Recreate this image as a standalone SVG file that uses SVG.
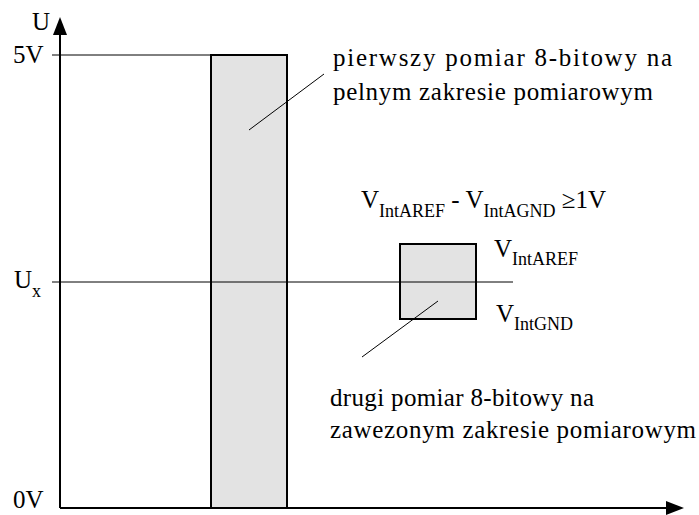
<svg xmlns="http://www.w3.org/2000/svg" width="699" height="515" viewBox="0 0 699 515">
<style>
text{fill:#000;font-size:25px}
.sub{font-size:18px}
.ax{stroke:#000;stroke-width:2;fill:none}
.thin{stroke:#000;stroke-width:1;fill:none}
.bar{fill:#e3e3e3;stroke:#000;stroke-width:2}
</style>
<rect width="699" height="515" fill="#fff"/>
<g id="bars">
<rect id="bar-full" class="bar" x="211" y="55" width="76" height="453"/>
<rect id="bar-narrow" class="bar" x="400" y="244" width="76" height="75"/>
</g>
<g id="connectors">
<line class="thin" x1="52" y1="55" x2="211" y2="55"/>
<line class="thin" x1="52" y1="282" x2="513" y2="282"/>
<line class="thin" x1="249" y1="130" x2="324" y2="74"/>
<line class="thin" x1="438" y1="301" x2="362" y2="357"/>
</g>
<g id="axes">
<line class="ax" x1="60" y1="508" x2="60" y2="34"/>
<polygon points="60,17 53,35 67,35" fill="#000"/>
<line class="ax" x1="60" y1="508" x2="667" y2="508"/>
<polygon points="684,508 666,501 666,515" fill="#000"/>
</g>
<g id="labels" font-family="Liberation Serif, Times New Roman, DejaVu Serif, serif">
<text x="32" y="30">U</text>
<text x="13" y="63">5V</text>
<text x="14" y="288">U<tspan class="sub" dy="9">x</tspan></text>
<text x="13" y="508">0V</text>
<text x="333" y="66" textLength="339" lengthAdjust="spacing">pierwszy pomiar 8-bitowy na</text>
<text x="333" y="100" textLength="320" lengthAdjust="spacing">pelnym zakresie pomiarowym</text>
<text x="361" y="208">V<tspan class="sub" dy="9">IntAREF</tspan><tspan dy="-9"> - V</tspan><tspan class="sub" dy="9">IntAGND</tspan><tspan dy="-9"> ≥1V</tspan></text>
<text x="494" y="257">V<tspan class="sub" dy="8">IntAREF</tspan></text>
<text x="496" y="322">V<tspan class="sub" dy="8">IntGND</tspan></text>
<text x="330" y="406" textLength="264" lengthAdjust="spacing">drugi pomiar 8-bitowy na</text>
<text x="330" y="438" textLength="366" lengthAdjust="spacing">zawezonym zakresie pomiarowym</text>
</g>
</svg>
